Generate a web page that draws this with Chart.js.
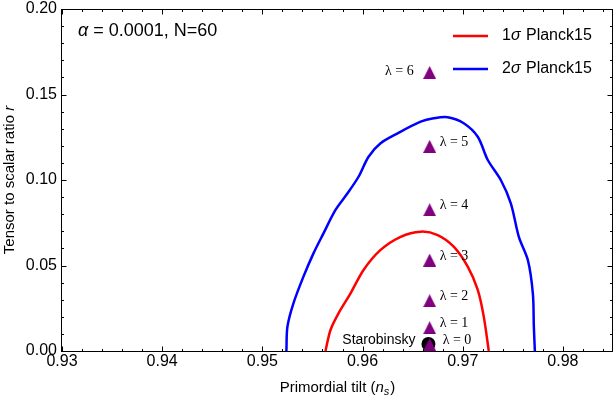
<!DOCTYPE html>
<html>
<head>
<meta charset="utf-8">
<script src="https://cdn.jsdelivr.net/npm/chart.js@4.4.0/dist/chart.umd.min.js"></script>
<style>
  html, body { margin: 0; padding: 0; background: #fff; overflow: hidden; }
  canvas { display: block; }
</style>
</head>
<body>
<canvas id="grafico" width="615" height="401"></canvas>
<script>
// contorno 1 sigma (Planck15)
const sigma1Ns = [0.9563, 0.9568, 0.9576, 0.9588, 0.9601, 0.9618, 0.9638, 0.9658, 0.9675, 0.9691, 0.9705, 0.9715, 0.9721, 0.9726];
const sigma1R = [0, 0.0123, 0.0220, 0.0337, 0.0474, 0.0591, 0.0668, 0.0698, 0.0678, 0.0610, 0.0493, 0.0357, 0.0201, 0];

// contorno 2 sigma (Planck15)
const sigma2Ns = [0.9524, 0.9525, 0.9531, 0.9541, 0.9551, 0.9561, 0.9573, 0.9585, 0.9596, 0.9606, 0.9618, 0.9635, 0.9658, 0.9671, 0.9685, 0.9701, 0.9715, 0.9725, 0.9738, 0.9748, 0.9756, 0.9765, 0.9770, 0.9771, 0.9772];
const sigma2R = [0, 0.0142, 0.0279, 0.0435, 0.0571, 0.0688, 0.0825, 0.0922, 0.1019, 0.1136, 0.1215, 0.1273, 0.1341, 0.1361, 0.1367, 0.1332, 0.1253, 0.1117, 0.1000, 0.0864, 0.0668, 0.0532, 0.0337, 0.0142, 0];

// previsoes do modelo para cada lambda
const lambdas = [0, 1, 2, 3, 4, 5, 6];
const lambdaNs = [0.9667, 0.9667, 0.9667, 0.9667, 0.9667, 0.9667, 0.9667];
const lambdaR = [0.0038, 0.0136, 0.0294, 0.0532, 0.0826, 0.1197, 0.1629];

// Starobinsky
const staroNs = [0.96658];
const staroR = [0.0041];

// ticks
const xTickVals = [0.93, 0.94, 0.95, 0.96, 0.97, 0.98];
const xTickLabels = ["0.93", "0.94", "0.95", "0.96", "0.97", "0.98"];
const yTickVals = [0, 0.05, 0.1, 0.15, 0.2];
const yTickLabels = ["0.00", "0.05", "0.10", "0.15", "0.20"];

const SANS = "'Liberation Sans', Arial, sans-serif";
const SERIF = "'Liberation Serif', 'Times New Roman', serif";
const ROXO = "#800080";

// triangulo um pouco mais alto que largo, como no original
const tri = document.createElement("canvas");
tri.width = 13; tri.height = 13;
const tctx = tri.getContext("2d");
tctx.fillStyle = ROXO;
tctx.beginPath();
tctx.moveTo(6.5, 0);
tctx.lineTo(13, 13);
tctx.lineTo(0, 13);
tctx.closePath();
tctx.fill();

const pares = (xs, ys) => xs.map((x, i) => ({ x, y: ys[i] }));

// texto com partes em estilos diferentes
function textoRico(ctx, partes, x, y, align) {
  let w = 0;
  partes.forEach((p) => { ctx.font = p.font; w += ctx.measureText(p.t).width + (p.dx || 0); });
  let cx = align === "center" ? x - w / 2 : align === "right" ? x - w : x;
  ctx.textAlign = "left";
  partes.forEach((p) => {
    ctx.font = p.font;
    ctx.fillText(p.t, cx, y + (p.dy || 0));
    cx += ctx.measureText(p.t).width + (p.dx || 0);
  });
}

// moldura com ticks para dentro (estilo Mathematica)
const molduraPlugin = {
  id: "moldura",
  afterDatasetsDraw(chart) {
    const { ctx, chartArea: a, scales: { x, y } } = chart;
    const L = Math.round(a.left) - 0.5, R = Math.round(a.right) - 0.5;
    const T = Math.round(a.top) + 0.5, B = Math.round(a.bottom) + 0.5;
    ctx.save();
    ctx.strokeStyle = "#000";
    ctx.lineWidth = 1;
    ctx.strokeRect(L, T, R - L, B - T);
    ctx.beginPath();
    for (let i = 0; i <= 27; i++) {
      const v = 0.93 + i * 0.002;
      const px = Math.round(x.getPixelForValue(v)) + 0.5;
      const len = i % 5 === 0 ? 5 : 2.5;
      ctx.moveTo(px, B); ctx.lineTo(px, B - len);
      ctx.moveTo(px, T); ctx.lineTo(px, T + len);
    }
    for (let i = 0; i <= 20; i++) {
      const v = i * 0.01;
      const py = Math.round(y.getPixelForValue(v)) + 0.5;
      const len = i % 5 === 0 ? 5 : 2.5;
      ctx.moveTo(L, py); ctx.lineTo(L + len, py);
      ctx.moveTo(R, py); ctx.lineTo(R - len, py);
    }
    ctx.stroke();
    ctx.restore();
  },
};

// textos: legenda, rotulos, titulos dos eixos
const textosPlugin = {
  id: "textos",
  afterDraw(chart) {
    const { ctx, chartArea: a } = chart;
    ctx.save();
    ctx.fillStyle = "#000";
    ctx.textBaseline = "middle";

    textoRico(ctx, [
      { t: "\u03b1", font: "italic 18px " + SANS },
      { t: " = 0.0001, N=60", font: "18px " + SANS },
    ], 78, 31, "left");

    // legenda
    const itens = [
      { ds: chart.data.datasets[3], n: "1", y: 36 },
      { ds: chart.data.datasets[2], n: "2", y: 69 },
    ];
    itens.forEach((it) => {
      ctx.strokeStyle = it.ds.borderColor;
      ctx.lineWidth = 2.5;
      ctx.beginPath();
      ctx.moveTo(453, it.y); ctx.lineTo(488, it.y);
      ctx.stroke();
      textoRico(ctx, [
        { t: it.n, font: "16px " + SANS },
        { t: "\u03c3", font: "italic 16px " + SANS, dx: 1 },
        { t: " Planck15", font: "16px " + SANS },
      ], 502, it.y, "left");
    });

    // rotulos lambda
    const meta = chart.getDatasetMeta(0);
    ctx.font = "14px " + SERIF;
    meta.data.forEach((pt, i) => {
      const txt = "\u03bb = " + lambdas[i];
      if (lambdas[i] === 6) {
        ctx.textAlign = "right";
        ctx.fillText(txt, pt.x - 16, pt.y - 1);
      } else {
        ctx.textAlign = "left";
        ctx.fillText(txt, pt.x + (lambdas[i] === 0 ? 13 : 10), pt.y - 4);
      }
    });

    const st = chart.getDatasetMeta(1).data[0];
    ctx.font = "14px " + SANS;
    ctx.textAlign = "right";
    ctx.fillText("Starobinsky", st.x - 13, st.y - 4);

    // titulo eixo x
    textoRico(ctx, [
      { t: "Primordial tilt (", font: "15px " + SANS },
      { t: "n", font: "italic 15px " + SANS },
      { t: "s", font: "italic 11px " + SANS, dy: 4, dx: 1 },
      { t: ")", font: "15px " + SANS },
    ], (a.left + a.right) / 2, 388, "center");

    // titulo eixo y
    ctx.translate(10, (a.top + a.bottom) / 2);
    ctx.rotate(-Math.PI / 2);
    textoRico(ctx, [
      { t: "Tensor to scalar ratio ", font: "15px " + SANS },
      { t: "r", font: "italic 15px " + SANS },
    ], 0, 0, "center");
    ctx.restore();
  },
};

const ctx = document.getElementById("grafico").getContext("2d");

new Chart(ctx, {
  type: "scatter",
  data: {
    datasets: [
      {
        label: "lambda",
        data: pares(lambdaNs, lambdaR),
        pointStyle: tri,
        pointRadius: 7,
      },
      {
        label: "Starobinsky",
        data: pares(staroNs, staroR),
        pointStyle: "circle",
        pointRadius: 7,
        backgroundColor: "#000",
        borderColor: "#000",
        borderWidth: 0,
      },
      {
        label: "2\u03c3 Planck15",
        data: pares(sigma2Ns, sigma2R),
        showLine: true,
        borderColor: "#0000ff",
        borderWidth: 2.5,
        pointRadius: 0,
        tension: 0.3,
      },
      {
        label: "1\u03c3 Planck15",
        data: pares(sigma1Ns, sigma1R),
        showLine: true,
        borderColor: "#ff0000",
        borderWidth: 2.5,
        pointRadius: 0,
        tension: 0.3,
      },
    ],
  },
  options: {
    responsive: false,
    animation: false,
    layout: { autoPadding: false, padding: { top: 9, right: 2, left: 0, bottom: 0 } },
    plugins: {
      legend: { display: false },
      tooltip: { enabled: false },
    },
    scales: {
      x: {
        type: "linear",
        min: 0.93,
        max: 0.985,
        grid: { display: false, drawTicks: false },
        border: { display: false },
        ticks: {
          color: "#000",
          font: { family: SANS, size: 16, lineHeight: 1 },
          padding: 3,
          autoSkip: false,
          maxRotation: 0,
          callback: (v, i) => xTickLabels[i],
        },
        afterBuildTicks: (s) => { s.ticks = xTickVals.map((v) => ({ value: v })); },
        afterFit: (s) => {
          s.height = 50;
          s.paddingLeft = 0; s.paddingRight = 0;
        },
      },
      y: {
        type: "linear",
        min: 0,
        max: 0.2,
        grid: { display: false, drawTicks: false },
        border: { display: false },
        ticks: {
          color: "#000",
          font: { family: SANS, size: 16, lineHeight: 1 },
          padding: 5,
          callback: (v, i) => yTickLabels[i],
        },
        afterBuildTicks: (s) => { s.ticks = yTickVals.map((v) => ({ value: v })); },
        afterFit: (s) => {
          s.width = 62;
          s.paddingTop = 0; s.paddingBottom = 0;
        },
      },
    },
  },
  plugins: [molduraPlugin, textosPlugin],
});
</script>
</body>
</html>
